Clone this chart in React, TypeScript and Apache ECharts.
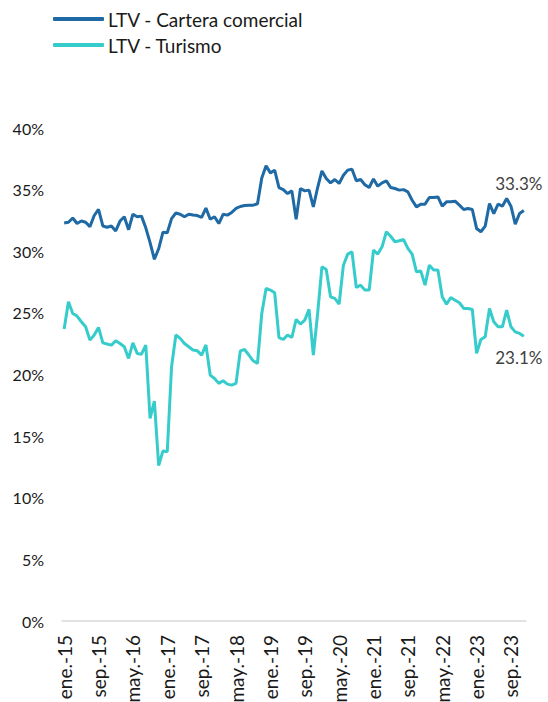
import React, { useEffect, useRef } from "react";
import * as echarts from "echarts";

const monthNames = ["ene.", "feb.", "mar.", "abr.", "may.", "jun.", "jul.", "ago.", "sep.", "oct.", "nov.", "dic."];
const years = [15, 16, 17, 18, 19, 20, 21, 22, 23];
const categories: string[] = [];
years.forEach((y) => monthNames.forEach((m) => categories.push(`${m}-${y}`)));

const carteraComercial = [
  32.3, 32.35, 32.7, 32.25, 32.45, 32.35, 32.0, 32.9, 33.4, 32.05,
  31.95, 32.05, 31.65, 32.45, 32.8, 31.75, 33.0, 32.8, 32.85, 31.9,
  30.7, 29.35, 30.2, 31.55, 31.5, 32.65, 33.1, 33.0, 32.8, 33.0,
  32.95, 32.9, 32.75, 33.5, 32.6, 32.8, 32.25, 33.0, 32.93, 33.15,
  33.47, 33.63, 33.71, 33.74, 33.74, 33.85, 35.95, 36.93, 36.36, 36.58,
  35.17, 35.0, 34.68, 34.9, 32.6, 35.09, 34.9, 34.96, 33.6, 35.17,
  36.52, 35.9, 35.55, 35.82, 35.5, 36.17, 36.58, 36.66, 35.72, 35.82,
  35.4, 35.17, 35.87, 35.28, 35.55, 35.71, 35.17, 35.09, 34.96, 35.0,
  34.82, 34.14, 33.6, 33.82, 33.82, 34.36, 34.36, 34.41, 33.66, 34.01,
  34.01, 34.06, 33.74, 33.39, 33.47, 33.39, 31.85, 31.58, 32.04, 33.87,
  33.06, 33.82, 33.66, 34.28, 33.66, 32.2, 33.06, 33.3,
];

const turismo = [
  23.7, 25.9, 24.95, 24.74, 24.28, 23.87, 22.79, 23.2, 23.82, 22.57,
  22.47, 22.38, 22.74, 22.52, 22.25, 21.3, 22.57, 21.71, 21.65, 22.38,
  16.44, 17.84, 12.6, 13.8, 13.73, 20.63, 23.2, 22.93, 22.52, 22.25,
  21.98, 21.92, 21.57, 22.4, 19.95, 19.68, 19.28, 19.49, 19.22, 19.14,
  19.28, 21.92, 22.03, 21.57, 21.11, 20.9, 24.95, 26.98, 26.85, 26.63,
  23.0, 22.84, 23.2, 23.0, 24.47, 24.09, 24.41, 25.28, 21.57, 24.95,
  28.74, 28.52, 26.3, 26.17, 25.71, 28.87, 29.77, 29.95, 27.06, 27.25,
  26.85, 26.85, 30.09, 29.77, 30.36, 31.58, 31.22, 30.77, 30.85, 30.95,
  30.23, 29.77, 28.33, 28.41, 27.25, 28.87, 28.47, 28.47, 26.3, 25.71,
  26.25, 26.03, 25.82, 25.36, 25.36, 25.28, 21.71, 22.84, 23.06, 25.36,
  24.28, 23.87, 23.87, 25.22, 23.87, 23.46, 23.33, 23.1,
];

const seriesNames = ["LTV - Cartera comercial", "LTV - Turismo"];
const colors = ["#1F69A5", "#37CCCC"];
const FONT = "Lato, 'Open Sans', sans-serif";

export default function App() {
  const ref = useRef<HTMLDivElement>(null);
  useEffect(() => {
    if (!ref.current) return;
    const chart = echarts.init(ref.current, null, { renderer: "svg" });
    const last = categories.length - 1;
    const endPoint = (vals: number[], pos: string, dist: number) => ({
      symbol: "circle",
      symbolSize: 0,
      data: [{ coord: [categories[last], vals[last]], value: vals[last] }],
      label: {
        show: true,
        position: pos,
        distance: dist,
        offset: [-5, 0],
        formatter: (p: any) => `${Number(p.value).toFixed(1)}%`,
        color: "#404040",
        fontSize: 17,
        fontFamily: FONT,
      },
    });
    chart.setOption({
      animation: false,
      textStyle: { fontFamily: FONT },
      legend: {
        orient: "vertical",
        left: 48,
        top: 3,
        itemWidth: 51,
        itemHeight: 4,
        itemGap: 4,
        icon: "roundRect",
        textStyle: {
          fontSize: 19,
          color: "#1a1a1a",
          fontFamily: FONT,
          lineHeight: 22,
          padding: [0, 0, 0, -1],
        },
        data: seriesNames,
      },
      grid: { left: 62, right: 22, top: 128, bottom: 81, outerBoundsMode: "none", containLabel: false },
      xAxis: {
        type: "category",
        data: categories,
        boundaryGap: true,
        axisLine: { lineStyle: { color: "#d9d9d9", width: 1.5 } },
        axisTick: { show: false },
        axisLabel: {
          interval: 7,
          rotate: 90,
          margin: 14,
          fontSize: 19,
          color: "#1a1a1a",
          fontFamily: FONT,
        },
      },
      yAxis: {
        type: "value",
        min: 0,
        max: 40,
        interval: 5,
        splitLine: { show: false },
        axisLine: { show: false },
        axisTick: { show: false },
        axisLabel: {
          formatter: "{value}%",
          margin: 18,
          fontSize: 16,
          color: "#1a1a1a",
          fontFamily: FONT,
        },
      },
      series: [
        {
          name: seriesNames[0],
          type: "line",
          data: carteraComercial,
          showSymbol: false,
          lineStyle: { width: 3, color: colors[0] },
          itemStyle: { color: colors[0] },
          markPoint: endPoint(carteraComercial, "top", 19),
        },
        {
          name: seriesNames[1],
          type: "line",
          data: turismo,
          showSymbol: false,
          lineStyle: { width: 3, color: colors[1] },
          itemStyle: { color: colors[1] },
          markPoint: endPoint(turismo, "bottom", 13),
        },
      ],
    });
    return () => chart.dispose();
  }, []);
  return (
    <div
      ref={ref}
      style={{ width: 548, height: 702, position: "absolute", left: 0, top: 0 }}
    />
  );
}
